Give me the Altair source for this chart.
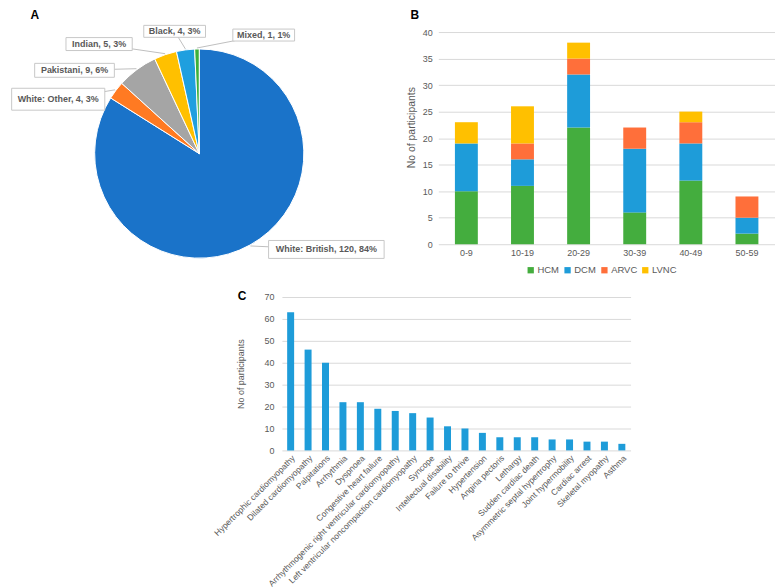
import altair as alt
import pandas as pd

# ---------------- data ----------------
eth_groups = ["White: British", "White: Other", "Pakistani", "Indian", "Black", "Mixed"]
eth_counts = [120, 4, 9, 5, 4, 1]
eth_colors = ["#1A73C9", "#FF7A22", "#A5A5A5", "#FFC000", "#1F9FDF", "#3DB03A"]

age_groups = ["0-9", "10-19", "20-29", "30-39", "40-49", "50-59"]
hcm = [10, 11, 22, 6, 12, 2]
dcm = [9, 5, 10, 12, 7, 3]
arvc = [0, 3, 3, 4, 4, 4]
lvnc = [4, 7, 3, 0, 2, 0]
cm_types = ["HCM", "DCM", "ARVC", "LVNC"]
cm_colors = ["#44AD3E", "#1E9CD9", "#FF6F3A", "#FFC000"]

symptoms = [
    "Hypertrophic cardiomyopathy", "Dilated cardiomyopathy", "Palpitations",
    "Arrhythmia", "Dyspnoea", "Congestive heart failure",
    "Arrhythmogenic right ventricular cardiomyopathy",
    "Left ventricular noncompaction cardiomyopathy", "Syncope",
    "Intellectual disability", "Failure to thrive", "Hypertension",
    "Angina pectoris", "Lethargy", "Sudden cardiac death",
    "Asymmetric septal hypertrophy", "Joint hypermobility", "Cardiac arrest",
    "Skeletal myopathy", "Asthma",
]
symptom_counts = [63, 46, 40, 22, 22, 19, 18, 17, 15, 11, 10, 8, 6, 6, 6, 5, 5, 4, 4, 3]

# ---------------- layout (not data) ----------------
FONT = "Liberation Sans"
TXT = "#595959"
GRID = "#D9D9D9"
PIE_W, PIE_H = 378, 288
CX, CY = PIE_W / 2, PIE_H / 2
R = 105
R_LAB = 150
# label nudges (dx, dy, box height) away from the radial anchor
LABEL_LAYOUT = {
    "White: British": (55, -35, 18),
    "White: Other": (-22, 36, 22),
    "Pakistani": (-36, 37, 14),
    "Indian": (-52, 32, 13),
    "Black": (-5, 26, 12),
    "Mixed": (68, 31, 12),
}

# ---------------- panel A: pie ----------------
total = sum(eth_counts)
pie_df = pd.DataFrame({
    "group": eth_groups,
    "value": eth_counts,
    "idx": list(range(len(eth_groups))),
})
pie_df["label"] = [f"{g}, {v}, {round(v / total * 100)}%" for g, v in zip(eth_groups, eth_counts)]
pie_df["ndx"] = [LABEL_LAYOUT[g][0] for g in eth_groups]
pie_df["ndy"] = [LABEL_LAYOUT[g][1] for g in eth_groups]
pie_df["bh"] = [LABEL_LAYOUT[g][2] for g in eth_groups]

pie_base = alt.Chart(pie_df)

arcs = pie_base.mark_arc(radius=R, stroke="white", strokeWidth=1).encode(
    theta=alt.Theta("value:Q", stack=True),
    color=alt.Color("group:N", scale=alt.Scale(domain=eth_groups, range=eth_colors), legend=None),
    order=alt.Order("idx:Q"),
)

lab_base = pie_base.transform_joinaggregate(
    total="sum(value)"
).transform_window(
    cum="sum(value)", sort=[alt.SortField("idx")], frame=[None, 0]
).transform_calculate(
    mid="(datum.cum - datum.value / 2) / datum.total * 2 * PI"
).transform_calculate(
    ex=f"{CX} + {R + 1} * sin(datum.mid)",
    ey=f"{CY} - {R + 1} * cos(datum.mid)",
    lx=f"{CX} + {R_LAB} * sin(datum.mid) + datum.ndx",
    ly=f"{CY} - {R_LAB} * cos(datum.mid) + datum.ndy",
).transform_calculate(
    bx1="datum.lx - (length(datum.label) * 4.5 + 8) / 2",
    bx2="datum.lx + (length(datum.label) * 4.5 + 8) / 2",
    by1="datum.ly - datum.bh / 2",
    by2="datum.ly + datum.bh / 2",
)

leaders = lab_base.mark_rule(color="#BFBFBF", strokeWidth=1).encode(
    x=alt.X("ex:Q", scale=None, axis=None),
    y=alt.Y("ey:Q", scale=None, axis=None),
    x2="lx:Q",
    y2="ly:Q",
)
boxes = lab_base.mark_rect(fill="white", stroke="#C8C8C8", strokeWidth=1).encode(
    x=alt.X("bx1:Q", scale=None, axis=None),
    x2="bx2:Q",
    y=alt.Y("by1:Q", scale=None, axis=None),
    y2="by2:Q",
)
labels = lab_base.mark_text(font=FONT, fontSize=9, fontWeight="bold", color=TXT).encode(
    x=alt.X("lx:Q", scale=None, axis=None),
    y=alt.Y("ly:Q", scale=None, axis=None),
    text="label:N",
)
letter_a = alt.Chart(pd.DataFrame({"t": ["A"]})).mark_text(
    font=FONT, fontSize=12, fontWeight="bold", color="black", align="center", baseline="top"
).encode(x=alt.value(24), y=alt.value(0), text="t:N")

panel_a = alt.layer(arcs, leaders, boxes, labels, letter_a).properties(width=PIE_W, height=PIE_H)

# ---------------- panel B: stacked bars ----------------
rows = []
for i, a in enumerate(age_groups):
    for k, (t, vals) in enumerate(zip(cm_types, [hcm, dcm, arvc, lvnc])):
        if vals[i] > 0:
            rows.append({"age": a, "type": t, "count": vals[i], "ord": k})
b_df = pd.DataFrame(rows)

B_H = 235
B_MAX = B_H / ((243 - 30) / 40)

bars_b = alt.Chart(b_df).mark_bar(size=23).encode(
    x=alt.X("age:N", sort=age_groups, title=None,
            axis=alt.Axis(labelAngle=0, labelFont=FONT, labelFontSize=9, labelColor=TXT,
                          ticks=False, domain=False, labelPadding=4)),
    y=alt.Y("count:Q", stack="zero", title="No of participants",
            scale=alt.Scale(domain=[0, B_MAX], nice=False, zero=True),
            axis=alt.Axis(values=list(range(0, 45, 5)), labelFont=FONT, labelFontSize=9,
                          labelColor=TXT, titleFont=FONT, titleFontSize=10.5,
                          titleFontWeight="normal", titleColor=TXT, titlePadding=6,
                          ticks=False, domain=False, labelPadding=6,
                          gridColor=GRID, gridWidth=1)),
    color=alt.Color("type:N", scale=alt.Scale(domain=cm_types, range=cm_colors),
                    legend=alt.Legend(orient="none", legendX=88, legendY=256,
                                      direction="horizontal", title=None,
                                      symbolType="square", symbolSize=40,
                                      symbolStrokeWidth=0,
                                      labelFont=FONT, labelFontSize=9.5, labelColor=TXT,
                                      columnPadding=3, labelOffset=2)),
    order=alt.Order("ord:Q"),
)
letter_b = alt.Chart(pd.DataFrame({"t": ["B"]})).mark_text(
    font=FONT, fontSize=12, fontWeight="bold", color="black", align="left", baseline="top"
).encode(x=alt.value(-28), y=alt.value(0), text="t:N")

panel_b = alt.layer(bars_b, letter_b).properties(width=338, height=B_H)

# ---------------- panel C: symptom bars ----------------
c_df = pd.DataFrame({"symptom": symptoms, "n": symptom_counts})
bars_c = alt.Chart(c_df).mark_bar(size=7, color="#1E9CD9").encode(
    x=alt.X("symptom:N", sort=symptoms, title=None,
            axis=alt.Axis(labelAngle=-45, labelFont=FONT, labelFontSize=8.5, labelColor=TXT,
                          ticks=False, domain=False, labelPadding=3, labelLimit=400)),
    y=alt.Y("n:Q", title="No of participants",
            scale=alt.Scale(domain=[0, 70], nice=False),
            axis=alt.Axis(values=list(range(0, 80, 10)), labelFont=FONT, labelFontSize=9,
                          labelColor=TXT, titleFont=FONT, titleFontSize=9,
                          titleFontWeight="normal", titleColor=TXT, titlePadding=19,
                          ticks=False, domain=False, labelPadding=8,
                          gridColor=GRID, gridWidth=1)),
)
letter_c = alt.Chart(pd.DataFrame({"t": ["C"]})).mark_text(
    font=FONT, fontSize=12, fontWeight="bold", color="black", align="center", baseline="middle"
).encode(x=alt.value(-40), y=alt.value(-1), text="t:N")

panel_c = alt.layer(bars_c, letter_c).properties(width=350, height=154)

spacer = alt.Chart(pd.DataFrame({"a": [0]})).mark_point(opacity=0).encode(
    x=alt.value(0), y=alt.value(0)
).properties(width=202, height=10)

row1 = alt.hconcat(panel_a, panel_b, spacing=18).resolve_scale(color="independent")
row2 = alt.hconcat(spacer, panel_c, spacing=0)

chart = alt.vconcat(row1, row2, spacing=-7).resolve_scale(
    color="independent"
).properties(padding=0).configure_view(stroke=None)

chart.save("out.html", embed_options={"renderer": "svg", "actions": False})
